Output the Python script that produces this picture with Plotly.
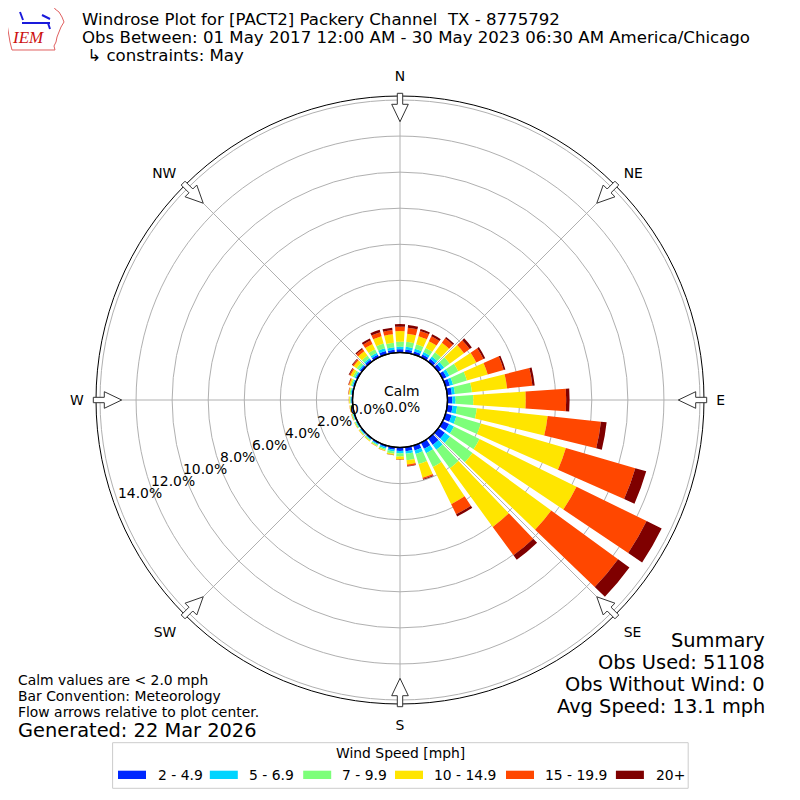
import math
import plotly.graph_objects as go

# direction bins (deg, meteorological convention)
directions = list(range(0, 360, 10))

# cumulative percentages per direction
cum_2_5 = [0.18, 0.18, 0.17, 0.18, 0.20, 0.22, 0.24, 0.25, 0.26, 0.27, 0.30, 0.35,
           0.40, 0.45, 0.45, 0.38, 0.28, 0.22, 0.19, 0.14, 0.10, 0.08, 0.07, 0.07,
           0.06, 0.06, 0.06, 0.06, 0.07, 0.08, 0.10, 0.12, 0.14, 0.16, 0.20, 0.17]
cum_5_7 = [0.32, 0.33, 0.32, 0.33, 0.36, 0.40, 0.42, 0.43, 0.43, 0.45, 0.55, 0.62,
           0.70, 0.80, 0.78, 0.65, 0.48, 0.37, 0.32, 0.24, 0.18, 0.14, 0.12, 0.12,
           0.11, 0.10, 0.10, 0.11, 0.12, 0.14, 0.17, 0.20, 0.24, 0.28, 0.35, 0.31]
cum_7_10 = [0.60, 0.61, 0.58, 0.58, 0.65, 0.78, 0.97, 1.23, 1.38, 1.43, 1.65, 2.03,
            2.28, 2.35, 2.05, 1.50, 1.06, 0.73, 0.50, 0.36, 0.26, 0.20, 0.17, 0.17,
            0.16, 0.15, 0.15, 0.16, 0.18, 0.22, 0.28, 0.35, 0.42, 0.50, 0.63, 0.56]
cum_10_15 = [1.19, 1.06, 1.05, 1.00, 1.30, 1.76, 2.08, 2.43, 3.34, 4.34, 5.60, 6.94,
             8.27, 7.75, 6.08, 3.80, 1.85, 0.97, 0.66, 0.43, 0.31, 0.24, 0.21, 0.20,
             0.19, 0.18, 0.18, 0.20, 0.23, 0.30, 0.43, 0.55, 0.72, 0.83, 1.05, 1.03]
cum_15_20 = [1.43, 1.40, 1.35, 1.30, 1.60, 2.15, 2.52, 3.35, 4.75, 6.58, 8.57, 10.95,
             12.60, 12.34, 8.03, 4.42, 1.93, 1.05, 0.68, 0.44, 0.32, 0.25, 0.22, 0.21,
             0.20, 0.19, 0.19, 0.21, 0.25, 0.34, 0.50, 0.63, 0.86, 1.05, 1.28, 1.27]
cum_20p = [1.58, 1.55, 1.46, 1.42, 1.70, 2.30, 2.63, 3.45, 4.88, 6.77, 8.89, 11.58,
           13.53, 13.12, 8.34, 4.56, 1.97, 1.08, 0.69, 0.45, 0.32, 0.25, 0.22, 0.21,
           0.20, 0.19, 0.19, 0.21, 0.26, 0.36, 0.54, 0.67, 0.94, 1.17, 1.42, 1.40]

speed_labels = ["2 - 4.9", "5 - 6.9", "7 - 9.9", "10 - 14.9", "15 - 19.9", "20+"]
speed_colors = ["#0028ff", "#00d4ff", "#7dff7a", "#ffe500", "#ff4700", "#7f0000"]

compass_vals = [0, 45, 90, 135, 180, 225, 270, 315]
compass_text = ["N", "NE", "E", "SE", "S", "SW", "W", "NW"]
radial_ticks = [0, 2, 4, 6, 8, 10, 12, 14]
radial_text = ["%.1f%%" % v for v in radial_ticks]

title_lines = ["Windrose Plot for [PACT2] Packery Channel  TX - 8775792",
               "Obs Between: 01 May 2017 12:00 AM - 30 May 2023 06:30 AM America/Chicago",
               " \u21b3 constraints: May"]
notes = ["Calm values are < 2.0 mph", "Bar Convention: Meteorology",
         "Flow arrows relative to plot center."]
generated = "Generated: 22 Mar 2026"
summary = ["Summary", "Obs Used: 51108", "Obs Without Wind: 0", "Avg Speed: 13.1 mph"]
calm_pct = 0.0

FONT = "DejaVu Sans"
OFF = 8          # page margin of the html body
W = H = 792
CX, CY = 400, 400
R_OUT = 304
R_HOLE = 47.5
SMALL = 13.9


def px(x, y):
    # window pixel -> paper coords
    return (x - OFF) / W, 1 - (y - OFF) / H


cums = [cum_2_5, cum_5_7, cum_7_10, cum_10_15, cum_15_20, cum_20p]
fig = go.Figure()
prev = [0.0] * len(directions)
for cum, lab, col in zip(cums, speed_labels, speed_colors):
    inc = [c - p for c, p in zip(cum, prev)]
    prev = cum
    fig.add_trace(go.Barpolar(
        r=inc, theta=directions, width=[7.7] * len(directions),
        name=lab, marker=dict(color=col, line=dict(width=0)),
        showlegend=False, hoverinfo="skip"
    ))

dx0, dy1 = px(CX - R_OUT, CY - R_OUT)
dx1, dy0 = px(CX + R_OUT, CY + R_OUT)
rmax = 14 + (R_OUT - 300) / ((300 - R_HOLE) / 14)

fig.update_layout(
    width=W, height=H,
    margin=dict(l=0, r=0, t=0, b=0),
    paper_bgcolor="white",
    font=dict(family=FONT, size=SMALL, color="black"),
    polar=dict(
        domain=dict(x=[dx0, dx1], y=[dy0, dy1]),
        hole=R_HOLE / R_OUT,
        bgcolor="white",
        barmode="stack",
        angularaxis=dict(
            rotation=90, direction="clockwise",
            tickmode="array", tickvals=compass_vals, ticktext=compass_text,
            ticks="outside", ticklen=9, tickcolor="rgba(0,0,0,0)",
            showline=True, linecolor="black", linewidth=1,
            gridcolor="#b0b0b0", gridwidth=1,
            tickfont=dict(size=SMALL, family=FONT),
        ),
        radialaxis=dict(
            range=[0, rmax], angle=200,
            tickmode="array", tickvals=radial_ticks, showticklabels=False,
            showline=False, ticks="", gridcolor="#b0b0b0", gridwidth=1,
        ),
    ),
)

shapes = []
# calm circle
c0 = px(CX - R_HOLE, CY + R_HOLE)
c1 = px(CX + R_HOLE, CY - R_HOLE)
shapes.append(dict(type="circle", xref="paper", yref="paper",
                   x0=c0[0], y0=c0[1], x1=c1[0], y1=c1[1],
                   line=dict(color="black", width=1.5)))

# flow arrows pointing to the centre
arrow = [(306.7, -2.7), (295.7, -2.7), (295.7, -8.3), (278.3, 0),
         (295.7, 8.3), (295.7, 2.7), (306.7, 2.7)]
for a in compass_vals:
    t = math.radians(a)
    ux, uy = math.sin(t), -math.cos(t)
    vx, vy = math.cos(t), math.sin(t)
    pts = []
    for r, w in arrow:
        x, y = px(CX + r * ux + w * vx, CY + r * uy + w * vy)
        pts.append("%.5f,%.5f" % (x, y))
    shapes.append(dict(type="path", xref="paper", yref="paper",
                       path="M" + " L".join(pts) + " Z",
                       fillcolor="white", line=dict(color="#333333", width=1)))

# logo outline
logo = [(7, 5), (53, 5), (55, 9), (59, 12), (62, 17), (64, 22), (61, 27), (59, 32),
        (57, 37), (56, 42), (54, 46), (55, 50), (12, 50), (10, 42), (8, 30), (6, 18), (6, 10)]
shapes.append(dict(type="path", xref="paper", yref="paper",
                   path="M" + " L".join("%.5f,%.5f" % px(x, y) for x, y in logo) + " Z",
                   line=dict(color="#e06060", width=1)))
for (xa, ya), (xb, yb) in [((22, 23), (50, 23)), ((42, 15), (50, 19)),
                           ((48, 23), (50, 29)), ((20, 12), (23, 20))]:
    p0, p1 = px(xa, ya), px(xb, yb)
    shapes.append(dict(type="line", xref="paper", yref="paper",
                       x0=p0[0], y0=p0[1], x1=p1[0], y1=p1[1],
                       line=dict(color="#1a1adb", width=2)))

annotations = []

# radial tick labels, horizontal, along the WSW direction
for v, txt in zip(radial_ticks, radial_text):
    x, y = px(367 - 16.2 * v, 409 + 6.0 * v)
    annotations.append(dict(x=x, y=y, xref="paper", yref="paper", text=txt,
                            showarrow=False, xanchor="center", yanchor="middle",
                            font=dict(size=SMALL)))

# legend box and patches
a0, a1 = px(112.6, 788.3), px(688.2, 742.7)
shapes.append(dict(type="rect", xref="paper", yref="paper",
                   x0=a0[0], y0=a0[1], x1=a1[0], y1=a1[1],
                   line=dict(color="#cccccc", width=1), fillcolor="rgba(255,255,255,0.8)"))
patch_x = [118, 209.8, 303.2, 395, 506, 615.9]
label_x = [155.5, 247.3, 340.3, 432.2, 542.8, 653.7]
for xp, xl, lab, col in zip(patch_x, label_x, speed_labels, speed_colors):
    b0, b1 = px(xp, 779), px(xp + 28, 770.7)
    shapes.append(dict(type="rect", xref="paper", yref="paper",
                       x0=b0[0], y0=b0[1], x1=b1[0], y1=b1[1],
                       line=dict(width=0), fillcolor=col))
    x, y = px(xl, 774.5)
    annotations.append(dict(x=x, y=y, xref="paper", yref="paper", text=lab,
                            showarrow=False, xanchor="left", yanchor="middle",
                            font=dict(size=SMALL)))
x, y = px(400, 753)
annotations.append(dict(x=x, y=y, xref="paper", yref="paper", text="Wind Speed [mph]",
                        showarrow=False, xanchor="center", yanchor="middle",
                        font=dict(size=SMALL)))

# title
for i, line in enumerate(title_lines):
    x, y = px(80, 20 + i * 17.5)
    annotations.append(dict(x=x, y=y, xref="paper", yref="paper", text=line,
                            showarrow=False, xanchor="left", yanchor="middle",
                            font=dict(size=16.6)))
x, y = px(28, 38)
annotations.append(dict(x=x, y=y, xref="paper", yref="paper", text="<i>IEM</i>",
                        showarrow=False, xanchor="center", yanchor="middle",
                        font=dict(size=17, family="Liberation Serif", color="#cc1010")))

# calm text
for txt, yy in [("Calm", 391), ("%.1f%%" % calm_pct, 407)]:
    x, y = px(CX + 2, yy)
    annotations.append(dict(x=x, y=y, xref="paper", yref="paper", text=txt,
                            showarrow=False, xanchor="center", yanchor="middle",
                            font=dict(size=SMALL)))

# notes
for i, line in enumerate(notes):
    x, y = px(16, 680 + i * 16)
    annotations.append(dict(x=x, y=y, xref="paper", yref="paper", text=line,
                            showarrow=False, xanchor="left", yanchor="middle",
                            font=dict(size=SMALL)))
x, y = px(16, 730)
annotations.append(dict(x=x, y=y, xref="paper", yref="paper", text=generated,
                        showarrow=False, xanchor="left", yanchor="middle",
                        font=dict(size=19.4)))

# summary
for i, line in enumerate(summary):
    x, y = px(767, 640 + i * 22)
    annotations.append(dict(x=x, y=y, xref="paper", yref="paper", text=line,
                            showarrow=False, xanchor="right", yanchor="middle",
                            font=dict(size=19.4)))

fig.update_layout(shapes=shapes, annotations=annotations)
fig.write_html("out.html")
